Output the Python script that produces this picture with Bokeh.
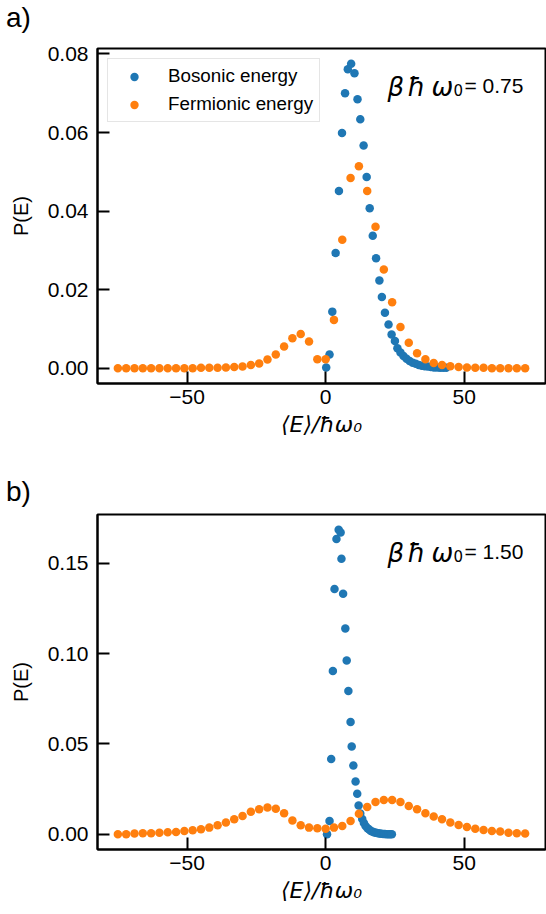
from bokeh.plotting import figure
from bokeh.layouts import column
from bokeh.models import Range1d, FixedTicker, Label, Legend, LegendItem, Div
from bokeh.embed import file_html
from bokeh.resources import INLINE

FONT = "Liberation Sans"
MATH = "DejaVu Sans"
BLUE = "#1f77b4"
ORANGE = "#ff7f0e"

# ---------------- data: panel a (beta*hbar*omega0 = 0.75) ----------------
bos_x_a = [0.2, 1.4, 2.4, 3.6, 4.8, 5.9, 7.0, 8.0, 9.2, 10.4, 11.5, 12.5, 13.7, 14.8,
           15.9, 17.0, 18.2, 19.4, 20.3, 21.4, 22.7, 23.8, 25.0, 25.9, 27.0, 28.1, 29.2,
           30.3, 31.4, 32.5, 33.6, 34.7, 35.8, 36.9, 38.0, 39.1, 40.2, 41.3, 42.4, 43.5]
bos_y_a = [0.0002, 0.0035, 0.0144, 0.0293, 0.0451, 0.0599, 0.0700, 0.0761, 0.0775, 0.0751,
           0.0685, 0.0634, 0.0567, 0.0487, 0.0407, 0.0337, 0.0280, 0.0223, 0.0181, 0.0141,
           0.0111, 0.0086, 0.0069, 0.0051, 0.0040, 0.0031, 0.0024, 0.0018, 0.0014, 0.0011,
           0.0008, 0.0006, 0.0005, 0.0004, 0.0003, 0.0002, 0.0002, 0.0001, 0.0001, 0.0001]

fer_x = [-75, -72, -69, -66, -63, -60, -57, -54, -51, -48, -45, -42, -39, -36, -33, -30,
         -27, -24, -21, -18, -15, -12, -9, -6, -3, 0, 3, 6, 9, 12, 15, 18, 21, 24, 27, 30,
         33, 36, 39, 42, 45, 48, 51, 54, 57, 60, 63, 66, 69, 72]
fer_y_a = [0, 0, 0, 0, 0, 0, 0, 0, 0, 0, 0.0001, 0.0001, 0.0001, 0.0002, 0.0003, 0.0004,
           0.0008, 0.0012, 0.0022, 0.0035, 0.0055, 0.0076, 0.0087, 0.0068, 0.0023, 0.0023,
           0.0123, 0.0327, 0.0484, 0.0514, 0.0451, 0.0360, 0.0251, 0.0168, 0.0105, 0.0065,
           0.0038, 0.0023, 0.0013, 0.0008, 0.0005, 0.0003, 0.0002, 0.0001, 0.0001, 0, 0, 0, 0, 0]

# ---------------- data: panel b (beta*hbar*omega0 = 1.50) ----------------
bos_x_b = [0.5, 1.4, 2.0, 2.6, 3.2, 3.9, 4.7, 5.4, 5.7, 6.3, 7.1, 7.6, 8.2, 9.0, 9.4, 10.0,
           10.8, 11.4, 11.9, 12.5, 13.2, 13.8, 14.4, 15.1, 15.7, 16.3, 17.0, 17.6, 18.2,
           18.9, 19.5, 20.1, 20.8, 21.4, 22.0, 22.7, 23.3, 23.9]
bos_y_b = [0.0, 0.0074, 0.0416, 0.0903, 0.1357, 0.1633, 0.1685, 0.1670, 0.1524, 0.1331,
           0.1139, 0.0962, 0.0793, 0.0621, 0.0486, 0.0381, 0.0292, 0.0224, 0.0159, 0.0115,
           0.0085, 0.0062, 0.0046, 0.0034, 0.0026, 0.0019, 0.0014, 0.0010, 0.0008, 0.0006,
           0.0004, 0.0003, 0.0002, 0.0002, 0.0001, 0.0001, 0.0001, 0.0]
fer_y_b = [0.0000, 0.0000, 0.0004, 0.0006, 0.0006, 0.0009, 0.0011, 0.0013, 0.0018, 0.0022,
           0.0028, 0.0037, 0.0050, 0.0065, 0.0083, 0.0101, 0.0125, 0.0138, 0.0148, 0.0142,
           0.0116, 0.0077, 0.0050, 0.0037, 0.0033, 0.0031, 0.0037, 0.0046, 0.0074, 0.0114,
           0.0151, 0.0179, 0.0190, 0.0190, 0.0179, 0.0157, 0.0138, 0.0116, 0.0098, 0.0083,
           0.0065, 0.0052, 0.0041, 0.0031, 0.0024, 0.0018, 0.0015, 0.0009, 0.0006, 0.0004]

x_ticks = [-50, 0, 50]
x_tick_labels = {-50: "\u221250", 0: "0", 50: "50"}
y_ticks_a = [0.0, 0.02, 0.04, 0.06, 0.08]
y_ticks_b = [0.0, 0.05, 0.10, 0.15]
legend_labels = ["Bosonic energy", "Fermionic energy"]


def tick_fmt(ticks):
    return {t: f"{t:.2f}" for t in ticks}


def tag_div(txt):
    html = ('<div style="font-family:\'Liberation Sans\'; font-size:28px; line-height:31px; '
            'padding-left:6px; padding-top:1.5px; margin:0; color:black;">' + txt + '</div>')
    return Div(text=html, width=546, height=34,
               styles={"font-family": "Liberation Sans", "font-size": "28px",
                       "line-height": "31px", "color": "black", "margin": "0"})


def make_panel(bx, by, fy, yrange, yticks, beta_txt, top, bottom, legend):
    p = figure(frame_width=448, frame_height=335,
               min_border_left=97, min_border_right=1,
               min_border_top=top, min_border_bottom=bottom,
               x_range=Range1d(-82.35, 79.35), y_range=Range1d(*yrange),
               output_backend="svg", toolbar_location=None)
    p.background_fill_color = "white"
    p.border_fill_color = "white"
    p.grid.visible = False
    p.outline_line_color = "black"
    p.outline_line_width = 2
    p.outline_line_alpha = 1.0

    r1 = p.scatter(bx, by, size=8.5, color=BLUE, line_width=0)
    r2 = p.scatter(fer_x, fy, size=8.5, color=ORANGE, line_width=0)

    for ax in (p.xaxis[0], p.yaxis[0]):
        ax.axis_line_width = 2
        ax.axis_line_color = "black"
        ax.major_tick_in = 12
        ax.major_tick_out = 0
        ax.major_tick_line_width = 2
        ax.major_tick_line_color = "black"
        ax.minor_tick_line_color = None
        ax.major_label_text_font = FONT
        ax.major_label_text_font_size = "21px"
        ax.major_label_text_color = "black"
        ax.axis_label_text_color = "black"

    p.xaxis[0].ticker = FixedTicker(ticks=x_ticks)
    p.xaxis[0].major_label_overrides = x_tick_labels
    p.xaxis[0].major_label_standoff = 6
    p.xaxis[0].axis_label = "\u27e8E\u27e9/\u0127\u03c9\u2080"
    p.xaxis[0].axis_label_text_font = MATH
    p.xaxis[0].axis_label_text_font_style = "italic"
    p.xaxis[0].axis_label_text_font_size = "22px"
    p.xaxis[0].axis_label_standoff = 5

    p.yaxis[0].ticker = FixedTicker(ticks=yticks)
    p.yaxis[0].major_label_overrides = tick_fmt(yticks)
    p.yaxis[0].major_label_standoff = 9
    p.yaxis[0].axis_label = "P(E)"
    p.yaxis[0].axis_label_text_font = FONT
    p.yaxis[0].axis_label_text_font_style = "normal"
    p.yaxis[0].axis_label_text_font_size = "20px"
    p.yaxis[0].axis_label_standoff = 13

    # beta hbar omega_0 annotation, composed of pieces
    for ch, xs in (("\u03b2", 290), ("\u0127", 310), ("\u03c9", 334)):
        p.add_layout(Label(x=xs, y=297, x_units="screen", y_units="screen", text=ch,
                           text_font=MATH, text_font_style="italic", text_font_size="26px",
                           text_color="black", text_baseline="alphabetic"))
    p.add_layout(Label(x=356, y=294, x_units="screen", y_units="screen", text="0",
                       text_font=MATH, text_font_size="15px",
                       text_color="black", text_baseline="alphabetic"))
    p.add_layout(Label(x=367, y=298, x_units="screen", y_units="screen", text=beta_txt,
                       text_font=FONT, text_font_size="21px",
                       text_color="black", text_baseline="alphabetic"))

    if legend:
        lg = Legend(items=[LegendItem(label=legend_labels[0], renderers=[r1]),
                           LegendItem(label=legend_labels[1], renderers=[r2])],
                    location="top_left")
        lg.margin = 10
        lg.padding = 6
        lg.spacing = 6
        lg.glyph_width = 40
        lg.glyph_height = 21
        lg.label_height = 21
        lg.label_standoff = 14
        lg.label_text_font = FONT
        lg.label_text_font_size = "18.8px"
        lg.label_text_color = "black"
        lg.border_line_color = "#cccccc"
        lg.border_line_width = 1
        lg.background_fill_color = "white"
        lg.background_fill_alpha = 0.8
        p.add_layout(lg)
    return p


div_a = tag_div("a)")
p1 = make_panel(bos_x_a, bos_y_a, fer_y_a, (-0.0039, 0.0814), y_ticks_a,
                "= 0.75", 14, 91, True)
div_b = tag_div("b)")
p2 = make_panel(bos_x_b, bos_y_b, fer_y_b, (-0.0084, 0.1769), y_ticks_b,
                "= 1.50", 6, 65, False)

layout = column(div_a, p1, div_b, p2, spacing=0)
open("out.html", "w").write(file_html(layout, INLINE))
